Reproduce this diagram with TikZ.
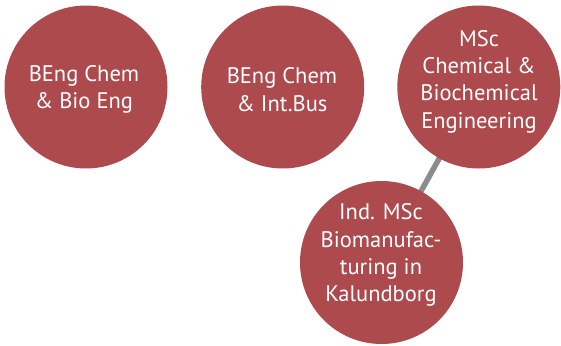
\documentclass[tikz,border=0pt]{standalone}
\usepackage{fontspec}
\setmainfont{PT Sans}
\usetikzlibrary{backgrounds}
\definecolor{dtured}{HTML}{AD4A4E}
\definecolor{linkgray}{HTML}{8C8C8C}
\tikzset{
  prog/.style={circle, fill=dtured, minimum size=163pt, inner sep=0pt},
  progtext/.style={text=white, align=center, inner sep=0pt,
    font=\fontsize{22.5}{27.3}\selectfont},
  link/.style={draw=linkgray, line width=5.5pt}
}
\begin{document}
\begin{tikzpicture}[x=1pt,y=1pt]
\useasboundingbox (0,0) rectangle (561,-345);
\node[prog] (c1) at (86,-87) {};
\node[prog] (c2) at (282.7,-87) {};
\node[prog] (c3) at (478.8,-87) {};
\node[prog] (c4) at (381.5,-262.5) {};
\node[progtext] (t1) at (84,-89.6) {BEng Chem\\\& Bio Eng};
\node[progtext] (t2) at (282,-89.6) {BEng Chem\\\& Int.Bus};
\node[progtext] (t3) at (479,-81.5) {MSc\\Chemical \&\\Biochemical\\Engineering};
\node[progtext] (t4) at (381,-255.2) {Ind. MSc\\Biomanufac-\\turing in\\Kalundborg};
\begin{scope}[on background layer]
\draw[link] (c4.center) -- (c3.center);
\end{scope}
\end{tikzpicture}
\end{document}
